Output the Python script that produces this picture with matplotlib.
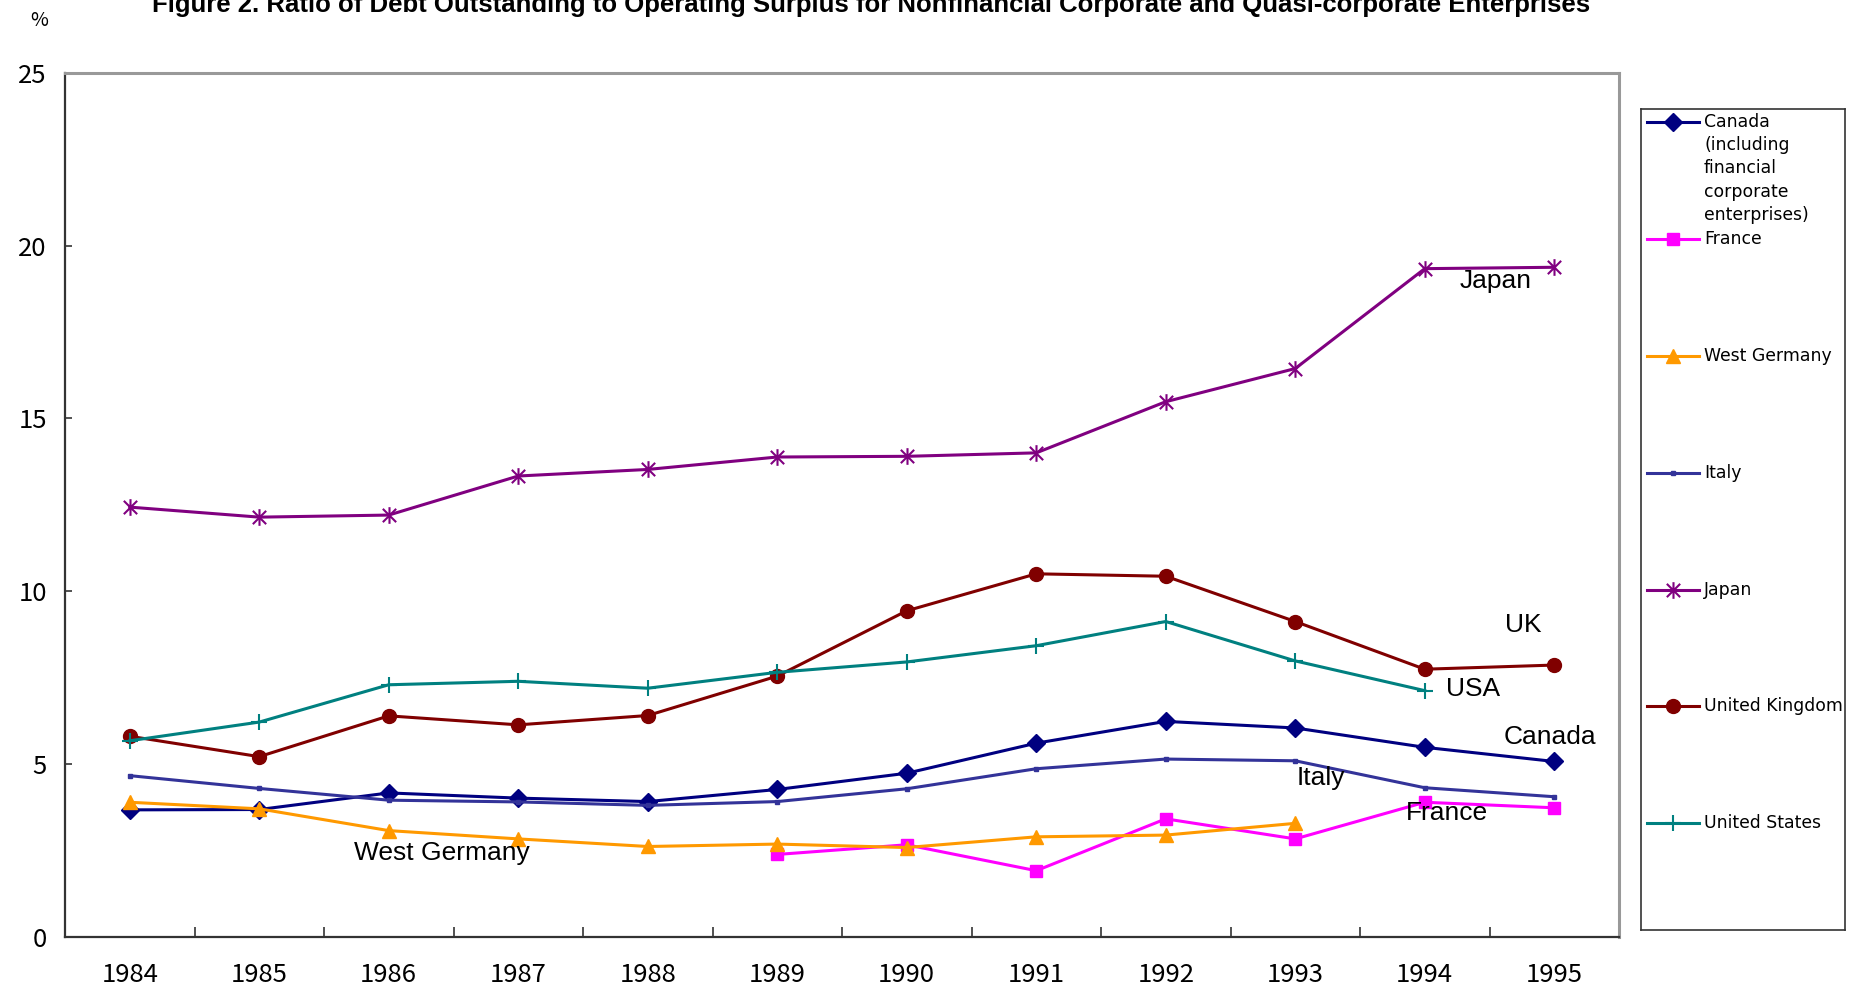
import numpy as np
import matplotlib.pyplot as plt
from matplotlib.path import Path

nan = np.nan

years = ["1984", "1985", "1986", "1987", "1988", "1989",
         "1990", "1991", "1992", "1993", "1994", "1995"]

canada = [3.67, 3.68, 4.16, 4.01, 3.91, 4.26, 4.73, 5.60, 6.23, 6.04, 5.48, 5.07]
france = [nan, nan, nan, nan, nan, 2.38, 2.66, 1.91, 3.41, 2.83, 3.89, 3.73]
west_germany = [3.89, 3.70, 3.07, 2.83, 2.61, 2.68, 2.58, 2.89, 2.94, 3.28, nan, nan]
italy = [4.66, 4.29, 3.95, 3.90, 3.80, 3.91, 4.28, 4.86, 5.14, 5.09, 4.31, 4.05]
japan = [12.43, 12.14, 12.20, 13.33, 13.52, 13.88, 13.90, 14.00, 15.48, 16.44, 19.33, 19.37]
uk = [5.80, 5.21, 6.39, 6.13, 6.40, 7.54, 9.43, 10.50, 10.43, 9.12, 7.74, 7.86]
usa = [5.67, 6.21, 7.29, 7.39, 7.19, 7.65, 7.95, 8.42, 9.12, 7.98, 7.12, nan]

legend_labels = ["Canada\n(including\nfinancial\ncorporate\nenterprises)",
                 "France", "West Germany", "Italy", "Japan",
                 "United Kingdom", "United States"]

# in-chart labels: (text, x index, y value)
annotations = [("Japan", 10.55, 18.97), ("UK", 10.76, 9.02), ("USA", 10.37, 7.16),
               ("Canada", 10.97, 5.79), ("Italy", 9.2, 4.58), ("France", 10.17, 3.58),
               ("West Germany", 2.41, 2.41)]

# asterisk marker: vertical bar plus an X
star = Path([(0, -1), (0, 1), (-0.8, -0.8), (0.8, 0.8), (-0.8, 0.8), (0.8, -0.8)],
            [Path.MOVETO, Path.LINETO, Path.MOVETO, Path.LINETO, Path.MOVETO, Path.LINETO])

series = [
    (canada, "#000080", "D", 9, 1),
    (france, "#FF00FF", "s", 9, 1),
    (west_germany, "#FF9900", "^", 10, 1),
    (italy, "#333399", "s", 3.5, 1),
    (japan, "#800080", star, 12, 1.5),
    (uk, "#800000", "o", 10, 1),
    (usa, "#008080", "+", 12, 1.5),
]

fig = plt.figure(figsize=(18.63, 9.91), dpi=100)
ax = fig.add_axes([65 / 1863, 1 - 936.7 / 991, (1619 - 65) / 1863, (936.7 - 72.7) / 991])

x = np.arange(len(years))
for vals, col, mk, ms, mew in series:
    ax.plot(x, vals, color=col, lw=2.2, marker=mk, ms=ms, mew=mew,
            mec=col, mfc=col, clip_on=False)

for txt, tx, ty in annotations:
    ax.text(tx, ty, txt, ha="center", va="center", fontsize=19,
            family=["Liberation Sans", "DejaVu Sans"])

ax.set_xlim(-0.5, 11.5)
ax.set_ylim(0, 25)
ax.set_yticks([0, 5, 10, 15, 20, 25])
ax.set_xticks(x)
ax.set_xticklabels(years)
ax.set_xticks(np.arange(-0.5, 12, 1), minor=True)
ax.tick_params(axis="x", which="major", length=0, pad=18.5)
ax.tick_params(axis="x", which="minor", direction="in", length=7, width=1.2, color="#333333")
ax.tick_params(axis="y", direction="in", length=5, width=1.2, color="#333333", pad=13)
for lab in ax.get_xticklabels() + ax.get_yticklabels():
    lab.set_family(["Noto Sans CJK JP", "DejaVu Sans"])
    lab.set_fontsize(18.5)

for side in ["left", "bottom"]:
    ax.spines[side].set_color("#333333")
    ax.spines[side].set_linewidth(1.6)
for side in ["top", "right"]:
    ax.spines[side].set_color("#999999")
    ax.spines[side].set_linewidth(2.2)

# title sits partly above the top edge, as in the source picture
fig.text(871 / 1863, 1 - 12 / 991,
         "Figure 2. Ratio of Debt Outstanding to Operating Surplus for Nonfinancial "
         "Corporate and Quasi-corporate Enterprises",
         ha="center", va="baseline", fontsize=18.5, fontweight="bold",
         family=["Liberation Sans", "DejaVu Sans"])
fig.text(39 / 1863, 1 - 20 / 991, "%", ha="center", va="center", fontsize=14,
         family=["Noto Sans CJK JP", "DejaVu Sans"])

# legend box drawn in its own axes, pixel-like coordinates
lg = fig.add_axes([1641 / 1863, 1 - 930 / 991, (1845 - 1641) / 1863, (930 - 109.3) / 991])
lg.set_xlim(0, 204)
lg.set_ylim(820.7, 0)
lg.set_xticks([])
lg.set_yticks([])
for s in lg.spines.values():
    s.set_color("#333333")
    s.set_linewidth(1.2)
for i, ((vals, col, mk, ms, mew), lab) in enumerate(zip(series, legend_labels)):
    yy = 13.1 + i * 116.8
    lg.plot([6, 58], [yy, yy], color=col, lw=2.2, clip_on=False)
    lg.plot([32], [yy], marker=mk, ms=ms, mew=mew, color=col, clip_on=False)
    lg.text(63, yy - 9, lab, ha="left", va="top", fontsize=12.4, linespacing=1.36,
            family=["DejaVu Sans"])

fig.savefig("out.png", dpi=100)
